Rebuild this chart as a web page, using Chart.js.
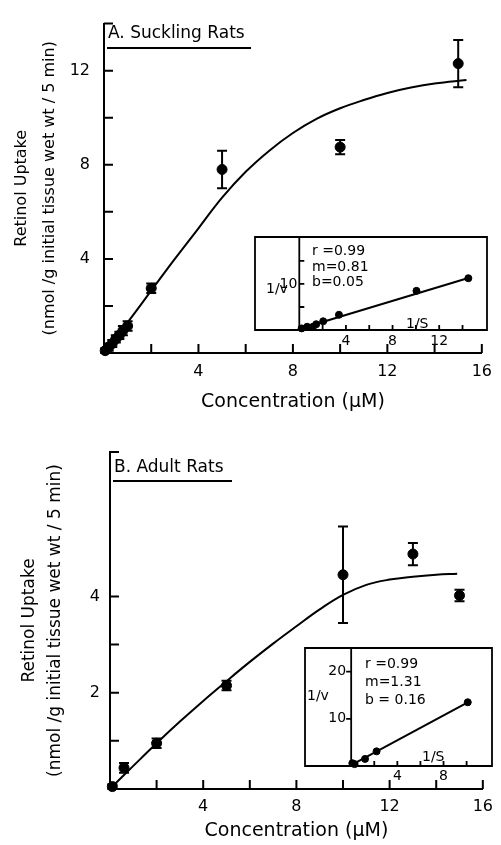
<!DOCTYPE html>
<html>
<head>
<meta charset="utf-8">
<script src="https://cdn.jsdelivr.net/npm/chart.js@4.4.1/dist/chart.umd.min.js"></script>
<style>
body { margin: 0; background: #fff; width: 501px; height: 845px; position: relative; overflow: hidden; }
canvas { position: absolute; }
</style>
</head>
<body>
<canvas id="chart-a" width="501" height="420" style="left:0;top:0"></canvas>
<canvas id="inset-a" width="242" height="119" style="left:250px;top:232px"></canvas>
<canvas id="chart-b" width="501" height="425" style="left:0;top:420px"></canvas>
<canvas id="inset-b" width="197" height="141" style="left:300px;top:643px"></canvas>
<script>
// A. suckling rats - uptake vs concentration
const concA = [0.05, 0.2, 0.35, 0.5, 0.65, 0.8, 1.0, 2, 5, 10, 15];
const uptakeA = [0.1, 0.25, 0.4, 0.6, 0.75, 0.95, 1.15, 2.75, 7.8, 8.75, 12.3];
const semA = [0.1, 0.15, 0.15, 0.15, 0.15, 0.2, 0.2, 0.2, 0.8, 0.3, 1.0];
const fitConcA = [0, 1, 2, 3, 4, 5, 6, 7, 8, 9, 10, 11, 12, 13, 14, 15.35];
const fitUptakeA = [0, 1.3, 2.65, 4.0, 5.3, 6.6, 7.7, 8.6, 9.35, 9.95, 10.4, 10.75, 11.05, 11.28, 11.45, 11.6];
// A inset (double reciprocal)
const invSA = [0.2, 0.67, 1.17, 1.45, 2.05, 3.4, 10.05, 14.5];
const invVA = [0.35, 0.7, 0.7, 1.25, 1.9, 3.3, 8.5, 11.25];
const lineSA = [0, 14.5];
const lineVA = [0.2, 11.3];

// B. adult rats
const concB = [0.1, 0.6, 2, 5, 10, 13, 15];
const uptakeB = [0.05, 0.44, 0.95, 2.15, 4.45, 4.88, 4.02];
const semB = [0.05, 0.1, 0.1, 0.1, 1.0, 0.23, 0.12];
const fitConcB = [0.2, 1, 2, 3, 4, 5, 6, 7, 8, 9, 10, 11, 12, 13, 14, 14.9];
const fitUptakeB = [0.1, 0.48, 0.95, 1.4, 1.83, 2.24, 2.64, 3.02, 3.38, 3.73, 4.03, 4.24, 4.35, 4.41, 4.45, 4.47];
// B inset
const invSB = [0.1, 0.3, 1.2, 2.2, 10.1];
const invVB = [0.6, 0.4, 1.5, 3.1, 13.5];
const lineSB = [0, 10.1];
const lineVB = [0.2, 13.5];

Chart.defaults.font.family = "'DejaVu Sans', sans-serif";
Chart.defaults.color = '#000';

function pts(xs, ys) {
    return xs.map((x, i) => ({ x: x, y: ys[i] }));
}

// draws error bars, inward ticks, inset frame and loose text
function decor(cfg) {
    return {
        id: 'decor',
        beforeDraw(chart) {
            if (!cfg.inset) return;
            const a = chart.chartArea;
            chart.ctx.save();
            chart.ctx.fillStyle = '#fff';
            chart.ctx.fillRect(a.left, a.top, a.width, a.height);
            chart.ctx.restore();
        },
        afterDatasetsDraw(chart) {
            const ctx = chart.ctx;
            const a = chart.chartArea;
            const x = chart.scales.x, y = chart.scales.y;
            ctx.save();
            ctx.strokeStyle = '#000';
            ctx.fillStyle = '#000';
            ctx.lineWidth = cfg.lineWidth || 2;

            chart.data.datasets.forEach((ds, i) => {
                if (!ds.errors) return;
                chart.getDatasetMeta(i).data.forEach((el, j) => {
                    const v = ds.data[j].y, e = ds.errors[j];
                    const y0 = y.getPixelForValue(v - e), y1 = y.getPixelForValue(v + e);
                    ctx.beginPath();
                    ctx.moveTo(el.x, y0); ctx.lineTo(el.x, y1);
                    ctx.moveTo(el.x - 5, y0); ctx.lineTo(el.x + 5, y0);
                    ctx.moveTo(el.x - 5, y1); ctx.lineTo(el.x + 5, y1);
                    ctx.stroke();
                });
            });

            const ax = cfg.inset ? x.getPixelForValue(0) : a.left;
            ctx.beginPath();
            cfg.xTicks.forEach(v => {
                const px = x.getPixelForValue(v);
                ctx.moveTo(px, a.bottom);
                ctx.lineTo(px, a.bottom - cfg.tickLen);
            });
            cfg.yTicks.forEach(v => {
                const py = y.getPixelForValue(v);
                ctx.moveTo(ax, py);
                ctx.lineTo(ax + cfg.yTickDir * cfg.tickLen, py);
            });
            if (cfg.inset) {
                ctx.rect(a.left, a.top, a.width, a.height);
                ctx.moveTo(ax, a.top);
                ctx.lineTo(ax, a.bottom);
            }
            ctx.stroke();

            if (cfg.yLabels) {
                ctx.font = cfg.font;
                ctx.textAlign = 'right';
                ctx.textBaseline = 'middle';
                cfg.yLabels.forEach(v => ctx.fillText(String(v), ax - cfg.yLabelGap, y.getPixelForValue(v)));
            }
            if (cfg.label) {
                ctx.font = cfg.labelFont;
                ctx.textAlign = 'left';
                ctx.textBaseline = 'middle';
                ctx.fillText(cfg.label.text, cfg.label.x, cfg.label.y);
                ctx.beginPath();
                ctx.moveTo(cfg.label.ux0, cfg.label.uy);
                ctx.lineTo(cfg.label.ux1, cfg.label.uy);
                ctx.stroke();
            }
            (cfg.texts || []).forEach(t => {
                ctx.font = cfg.font;
                ctx.textAlign = 'left';
                ctx.textBaseline = 'middle';
                ctx.fillText(t.text, a.left + t.x, a.top + t.y);
            });
            ctx.restore();
        }
    };
}

function mainChart(id, o) {
    return new Chart(document.getElementById(id), {
        type: 'scatter',
        data: {
            datasets: [
                {
                    data: pts(o.fitX, o.fitY),
                    showLine: true,
                    borderColor: '#000',
                    borderWidth: 2,
                    pointRadius: 0,
                    tension: 0.4,
                    clip: false
                },
                {
                    data: pts(o.xs, o.ys),
                    errors: o.errs,
                    pointRadius: 5,
                    backgroundColor: '#000',
                    borderColor: '#000',
                    clip: false
                }
            ]
        },
        options: {
            responsive: false,
            animation: false,
            layout: { padding: { top: o.padTop, right: 6, left: 0, bottom: 0 } },
            plugins: { legend: { display: false }, tooltip: { enabled: false } },
            scales: {
                x: {
                    min: 0, max: 16,
                    grid: { display: false, drawTicks: false },
                    border: { color: '#000', width: 2 },
                    ticks: { stepSize: 4, padding: o.xPad, font: { size: 16 }, callback: v => v === 0 ? '' : v },
                    title: { display: true, text: 'Concentration (μM)', font: { size: 19 }, padding: { top: 0, bottom: o.xTitlePad } },
                    afterFit: s => { s.height = o.xHeight; }
                },
                y: {
                    min: 0, max: o.yMax,
                    grid: { display: false, drawTicks: false },
                    border: { color: '#000', width: 2 },
                    ticks: { stepSize: 1, padding: o.yPad, font: { size: 16 }, callback: v => o.yLabels.includes(v) ? v : '' },
                    title: {
                        display: true,
                        text: ['Retinol Uptake', '(nmol /g initial tissue wet wt / 5 min)'],
                        font: { size: o.yTitleSize, lineHeight: o.yTitleLh },
                        padding: { top: o.yTitlePad, bottom: 0 }
                    },
                    afterFit: s => { s.width = o.yWidth; }
                }
            }
        },
        plugins: [decor({
            xTicks: [2, 4, 6, 8, 10, 12, 14, 16],
            yTicks: o.yTicks,
            yTickDir: 1,
            tickLen: 9,
            labelFont: "17px 'DejaVu Sans'",
            label: o.label
        })]
    });
}

function insetChart(id, o) {
    return new Chart(document.getElementById(id), {
        type: 'scatter',
        data: {
            datasets: [
                {
                    data: pts(o.lineX, o.lineY),
                    showLine: true,
                    borderColor: '#000',
                    borderWidth: 2,
                    pointRadius: 0,
                    clip: false
                },
                {
                    data: pts(o.xs, o.ys),
                    pointRadius: 3.5,
                    backgroundColor: '#000',
                    borderColor: '#000',
                    clip: false
                }
            ]
        },
        options: {
            responsive: false,
            animation: false,
            layout: { padding: { top: 1, right: 2, left: 1, bottom: 0 } },
            plugins: { legend: { display: false }, tooltip: { enabled: false } },
            scales: {
                x: {
                    min: o.xMin, max: o.xMax,
                    grid: { display: false, drawTicks: false },
                    border: { display: false },
                    ticks: { padding: o.xPad, font: { size: 14 }, maxRotation: 0 },
                    afterBuildTicks: s => { s.ticks = o.xLabels.map(v => ({ value: v })); },
                    afterFit: s => { s.height = o.xHeight; }
                },
                y: { display: false, min: 0, max: o.yMax }
            }
        },
        plugins: [decor({
            inset: true,
            lineWidth: 1.8,
            xTicks: o.xTicks,
            yTicks: o.yTicks,
            yTickDir: o.yTickDir,
            tickLen: 5,
            yLabels: o.yLabels,
            yLabelGap: o.yLabelGap,
            font: "14px 'DejaVu Sans'",
            texts: o.texts
        })]
    });
}

mainChart('chart-a', {
    xs: concA, ys: uptakeA, errs: semA, fitX: fitConcA, fitY: fitUptakeA,
    yMax: 14, yLabels: [4, 8, 12], yTicks: [2, 4, 6, 8, 10, 12, 14],
    padTop: 17, yWidth: 104, xHeight: 67, xPad: 9, yPad: 14, xTitlePad: 7,
    yTitleSize: 16, yTitleLh: 1.75, yTitlePad: 8,
    label: { text: 'A. Suckling Rats', x: 108, y: 34, ux0: 107, ux1: 251, uy: 48 }
});

insetChart('inset-a', {
    xs: invSA, ys: invVA, lineX: lineSA, lineY: lineVA,
    xMin: -3.8, xMax: 16.1, yMax: 20.2, xHeight: 21, xPad: 3,
    xLabels: [4, 8, 12], xTicks: [2, 4, 6, 8, 10, 12, 14],
    yTicks: [5, 10, 15], yTickDir: 1, yLabels: [10], yLabelGap: 2,
    texts: [
        { text: 'r =0.99', x: 57, y: 14 },
        { text: 'm=0.81', x: 57, y: 30 },
        { text: 'b=0.05', x: 57, y: 45 },
        { text: '1/v', x: 11, y: 52 },
        { text: '1/S', x: 151, y: 87 }
    ]
});

mainChart('chart-b', {
    xs: concB, ys: uptakeB, errs: semB, fitX: fitConcB, fitY: fitUptakeB,
    yMax: 7, yLabels: [2, 4], yTicks: [1, 2, 3, 4, 7],
    padTop: 32, yWidth: 110, xHeight: 56, xPad: 8, yPad: 10, xTitlePad: 3,
    yTitleSize: 17, yTitleLh: 1.53, yTitlePad: 17,
    label: { text: 'B. Adult Rats', x: 114, y: 48, ux0: 113, ux1: 232, uy: 61 }
});

insetChart('inset-b', {
    xs: invSB, ys: invVB, lineX: lineSB, lineY: lineVB,
    xMin: -4, xMax: 12.2, yMax: 25, xHeight: 18, xPad: 2,
    xLabels: [4, 8], xTicks: [2, 4, 6, 8, 10],
    yTicks: [10, 20], yTickDir: -1, yLabels: [10, 20], yLabelGap: 5,
    texts: [
        { text: 'r =0.99', x: 60, y: 16 },
        { text: 'm=1.31', x: 60, y: 34 },
        { text: 'b = 0.16', x: 60, y: 52 },
        { text: '1/v', x: 2, y: 48 },
        { text: '1/S', x: 117, y: 109 }
    ]
});
</script>
</body>
</html>
